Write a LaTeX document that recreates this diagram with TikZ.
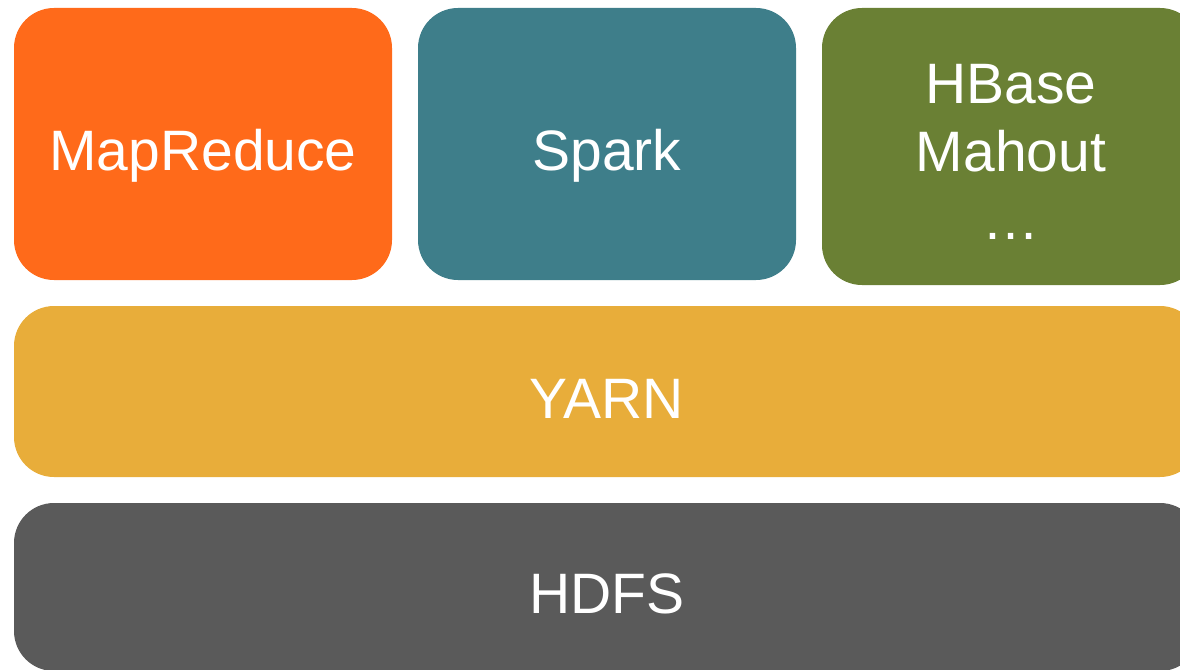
\documentclass[tikz,border=0pt]{standalone}
\usepackage{fontspec}
\setmainfont{Liberation Sans}
\usepackage{tikz}
\usetikzlibrary{positioning}

\definecolor{mrorange}{HTML}{FF6A1A}
\definecolor{sparkteal}{HTML}{3E7E8A}
\definecolor{hbasegreen}{HTML}{6A8034}
\definecolor{yarnyellow}{HTML}{E8AD3A}
\definecolor{hdfsgray}{HTML}{5A5A5A}

\tikzset{
    appbox/.style={rectangle, rounded corners=40pt, inner sep=0pt, outer sep=0pt,
        minimum width=378pt, minimum height=272pt, text=white,
        text height=53pt, text depth=0pt,
        font=\fontsize{57}{68}\selectfont},
    layerbox/.style={appbox, minimum width=1186pt, minimum height=171pt}
}

\begin{document}
\begin{tikzpicture}[node distance=26pt]
        \useasboundingbox (0pt,0pt) rectangle (1180pt,-669pt);
        \node[appbox, fill=mrorange, anchor=north west] (mapreduce) at (14pt,-8pt) {MapReduce};
        \node[appbox, fill=sparkteal, right=of mapreduce] (spark) {Spark};
        \node[appbox, fill=hbasegreen, right=of spark.north east, anchor=north west,
            minimum height=277pt, align=center, text height=186pt] (hbase) {HBase\\Mahout\\\ldots};
        \node[layerbox, fill=yarnyellow, below=of mapreduce.south west, anchor=north west] (yarn) {YARN};
        \node[layerbox, fill=hdfsgray, below=of yarn.south west, anchor=north west, minimum height=168pt] (hdfs) {HDFS};
    \end{tikzpicture}
\end{document}
